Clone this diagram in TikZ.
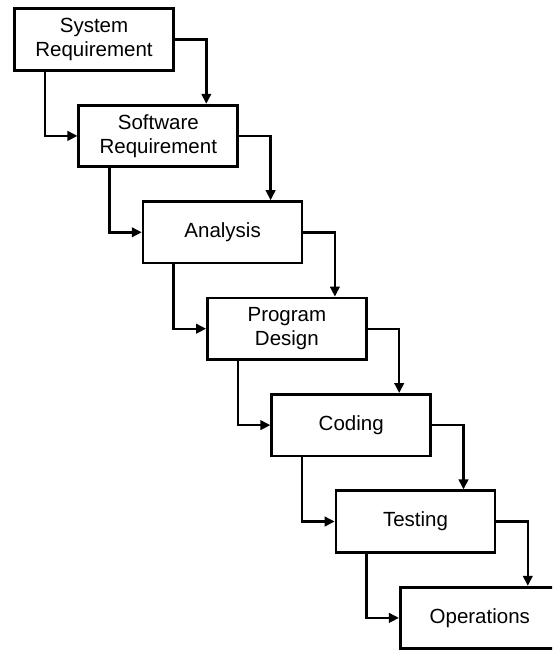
\documentclass[tikz,border=0pt]{standalone}
\usepackage{fontspec}
\setmainfont{Liberation Sans}
\usetikzlibrary{calc,arrows.meta}
\begin{document}
\begin{tikzpicture}[x=1pt,y=-1pt,
  stagebox/.style={draw=black, line width=2.7pt, fill=white, minimum width=159pt,
    minimum height=61.5pt, inner sep=0pt, align=center,
    font=\fontsize{20.5}{24}\selectfont},
  arr/.style={draw=black, line width=2.4pt, -{Triangle[length=10pt,width=9.5pt]}}]
\useasboundingbox (0,0) rectangle (552,653);
\clip (0,0) rectangle (552,653);
\fill[white] (0,0) rectangle (552,653);
\node[stagebox] (b1) at (94,39.5) {System\\Requirement};
\node[stagebox] (b2) at (158.3,135.9) {Software\\Requirement};
\node[stagebox] (b3) at (222.6,232.3) {Analysis};
\node[stagebox] (b4) at (286.9,328.7) {Program\\Design};
\node[stagebox] (b5) at (351.2,425.1) {Coding};
\node[stagebox] (b6) at (415.5,521.5) {Testing};
\node[stagebox] (b7) at (479.8,617.9) {Operations};
\foreach \a/\b in {b1/b2,b2/b3,b3/b4,b4/b5,b5/b6,b6/b7}{
  \draw[arr] (\a.east) -| ($(\b.north)+(48,0)$);
  \draw[arr] ($(\a.south)+(-49,0)$) |- (\b.west);
}
\end{tikzpicture}
\end{document}
